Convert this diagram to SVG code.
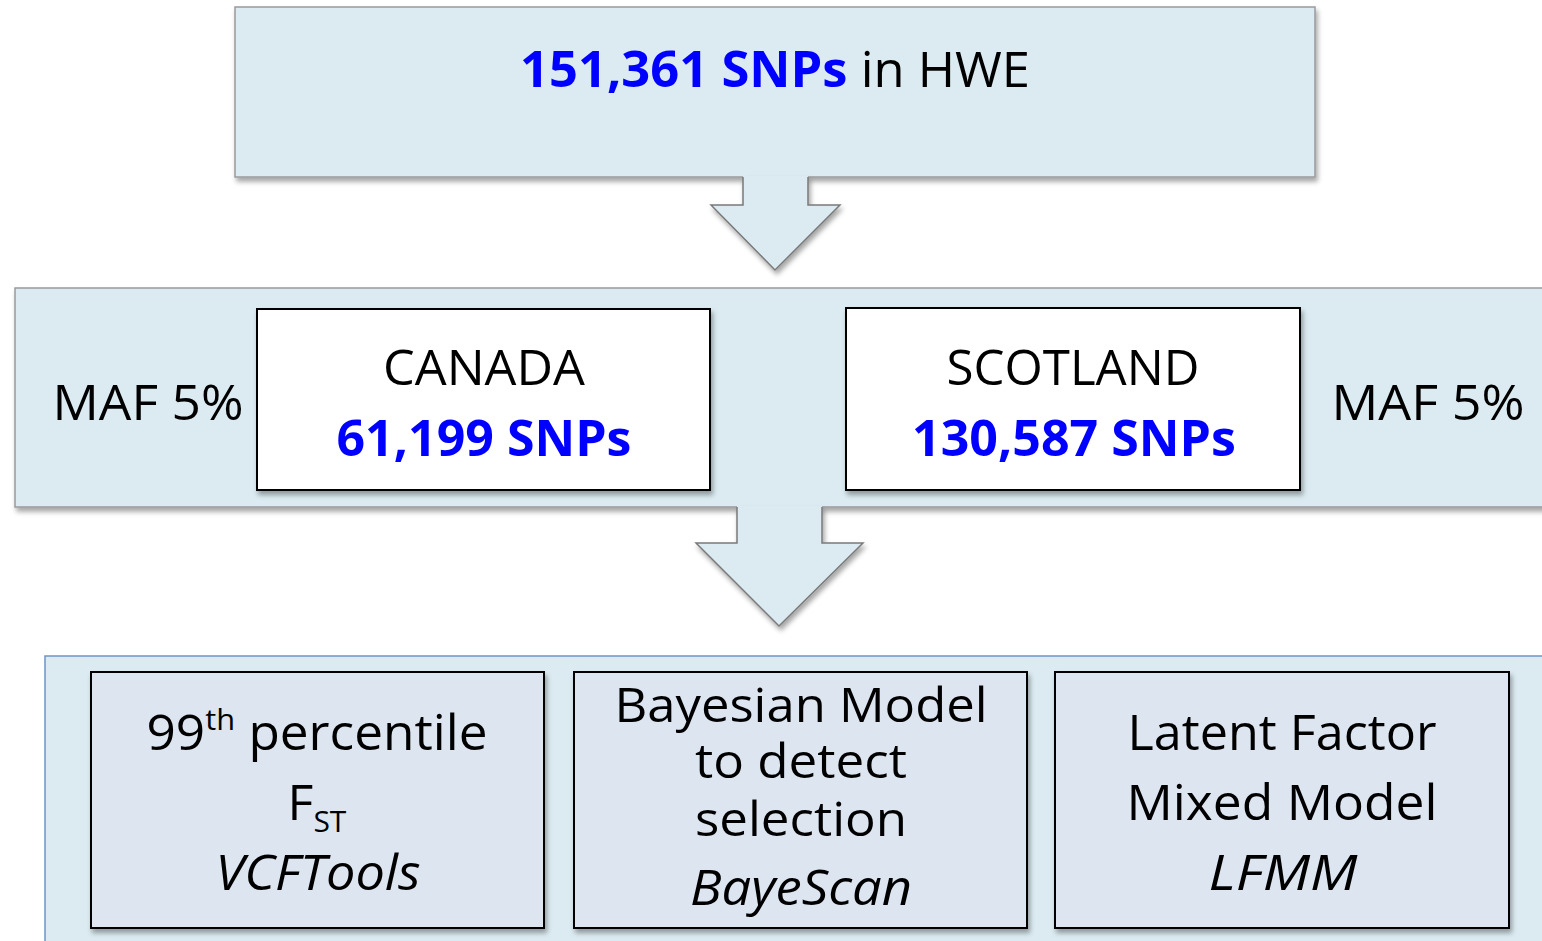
<svg xmlns="http://www.w3.org/2000/svg" width="1542" height="941" viewBox="0 0 1542 941">
  <defs>
    <filter id="shadow" x="-5%" y="-5%" width="110%" height="115%">
      <feDropShadow dx="2" dy="4" stdDeviation="2.5" flood-color="#000" flood-opacity="0.35"/>
    </filter>
    <style>
      .panel { fill: #dbebf1; stroke: #9a9a9a; stroke-width: 1.5; }
      .band3 { fill: #dbebf1; stroke: #6a96cc; stroke-width: 1.5; }
      .white { fill: #ffffff; stroke: #000; stroke-width: 2; }
      .method { fill: #dce5f0; stroke: #000; stroke-width: 2; }
      .arrow-fill { fill: #dbebf1; stroke: none; }
      .arrow-line { fill: none; stroke: #7a7a7a; stroke-width: 1.5; stroke-linejoin: miter; }
      text { font-family: "Open Sans", "Liberation Sans", sans-serif; font-size: 50px; fill: #000; text-anchor: middle; }
      .blue { fill: #0000ff; font-weight: bold; }
      .it { font-style: italic; }
      .tight { font-size: 47px; }
    </style>
  </defs>

  <!-- stage 1: HWE filter -->
  <g id="hwe">
    <rect class="panel" x="235" y="7" width="1080" height="170" filter="url(#shadow)"/>
    <text x="775" y="87" textLength="510" lengthAdjust="spacingAndGlyphs"><tspan class="blue">151,361 SNPs</tspan> in HWE</text>
  </g>

  <!-- stage 2: MAF filter per population -->
  <g id="maf">
    <rect class="panel" x="15" y="288" width="1540" height="219" filter="url(#shadow)"/>
    <text x="148" y="420" textLength="191" lengthAdjust="spacingAndGlyphs">MAF 5%</text>
    <text x="1428" y="420" textLength="193" lengthAdjust="spacingAndGlyphs">MAF 5%</text>
  </g>
  <g id="canada">
    <rect class="white" x="257" y="309" width="453" height="181" filter="url(#shadow)"/>
    <text x="484" y="385" textLength="202" lengthAdjust="spacingAndGlyphs">CANADA</text>
    <text x="484" y="456" class="blue" textLength="295" lengthAdjust="spacingAndGlyphs">61,199 SNPs</text>
  </g>
  <g id="scotland">
    <rect class="white" x="846" y="308" width="454" height="182" filter="url(#shadow)"/>
    <text x="1073" y="385" textLength="253" lengthAdjust="spacingAndGlyphs">SCOTLAND</text>
    <text x="1074" y="456" class="blue" textLength="324" lengthAdjust="spacingAndGlyphs">130,587 SNPs</text>
  </g>

  <!-- connectors: block arrows growing out of the panel above -->
  <g id="connectors">
    <g filter="url(#shadow)">
      <path class="arrow-fill" d="M743,176 L808,176 L808,205 L840,205 L775,270 L711,205 L743,205 Z"/>
      <path class="arrow-line" d="M743,177 L743,205 L711,205 L775,270 L840,205 L808,205 L808,177"/>
    </g>
    <g filter="url(#shadow)">
      <path class="arrow-fill" d="M737,506 L822,506 L822,543 L863,543 L779,626 L696,543 L737,543 Z"/>
      <path class="arrow-line" d="M737,507 L737,543 L696,543 L779,626 L863,543 L822,543 L822,507"/>
    </g>
  </g>

  <!-- stage 3: outlier detection methods -->
  <g id="methods">
    <rect class="band3" x="45" y="656" width="1510" height="300"/>
  </g>
  <g id="fst">
    <rect class="method" x="91" y="672" width="453" height="256" filter="url(#shadow)"/>
    <text x="317" y="750" textLength="341" lengthAdjust="spacingAndGlyphs">99<tspan font-size="30" dy="-20">th</tspan><tspan dy="20"> percentile</tspan></text>
    <text x="317" y="820">F<tspan font-size="30" dy="12">ST</tspan></text>
    <text x="318" y="890" class="it" textLength="205" lengthAdjust="spacingAndGlyphs">VCFTools</text>
  </g>
  <g id="bayescan">
    <rect class="method" x="574" y="672" width="453" height="256" filter="url(#shadow)"/>
    <text x="801" y="722" class="tight" textLength="373" lengthAdjust="spacingAndGlyphs">Bayesian Model</text>
    <text x="801" y="778" class="tight" textLength="212" lengthAdjust="spacingAndGlyphs">to detect</text>
    <text x="801" y="836" class="tight" textLength="212" lengthAdjust="spacingAndGlyphs">selection</text>
    <text x="801" y="905" class="it" textLength="222" lengthAdjust="spacingAndGlyphs">BayeScan</text>
  </g>
  <g id="lfmm">
    <rect class="method" x="1055" y="672" width="454" height="256" filter="url(#shadow)"/>
    <text x="1282" y="750" textLength="309" lengthAdjust="spacingAndGlyphs">Latent Factor</text>
    <text x="1282" y="820" textLength="311" lengthAdjust="spacingAndGlyphs">Mixed Model</text>
    <text x="1283" y="890" class="it" textLength="149" lengthAdjust="spacingAndGlyphs">LFMM</text>
  </g>
</svg>
